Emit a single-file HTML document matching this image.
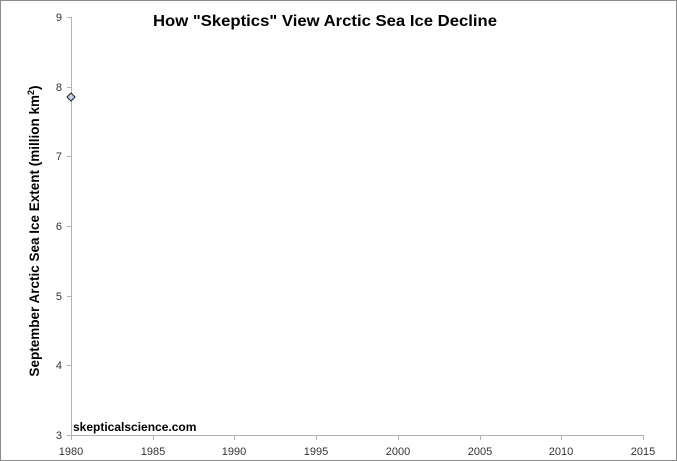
<!DOCTYPE html>
<html><head><style>body{margin:0;background:#fff}svg{display:block}</style></head><body>
<svg width="677" height="461" xmlns="http://www.w3.org/2000/svg" font-family="Liberation Sans, DejaVu Sans, sans-serif">
<rect x="0.5" y="0.5" width="676" height="460" fill="#fff" stroke="#8c8c8c"/>
<text x="325" y="26" text-anchor="middle" font-size="16" font-weight="bold" fill="#000" textLength="344" lengthAdjust="spacingAndGlyphs">How "Skeptics" View Arctic Sea Ice Decline</text>
<g stroke="#b3b3b3" stroke-width="1">
<line x1="71.5" y1="17" x2="71.5" y2="435"/>
<line x1="71" y1="435.5" x2="643" y2="435.5"/>
<line x1="67" y1="17.5" x2="71" y2="17.5"/>
<line x1="67" y1="87.5" x2="71" y2="87.5"/>
<line x1="67" y1="156.5" x2="71" y2="156.5"/>
<line x1="67" y1="226.5" x2="71" y2="226.5"/>
<line x1="67" y1="296.5" x2="71" y2="296.5"/>
<line x1="67" y1="365.5" x2="71" y2="365.5"/>
<line x1="67" y1="435.5" x2="71" y2="435.5"/>
<line x1="71.5" y1="435" x2="71.5" y2="440"/>
<line x1="153.5" y1="435" x2="153.5" y2="440"/>
<line x1="234.5" y1="435" x2="234.5" y2="440"/>
<line x1="316.5" y1="435" x2="316.5" y2="440"/>
<line x1="398.5" y1="435" x2="398.5" y2="440"/>
<line x1="480.5" y1="435" x2="480.5" y2="440"/>
<line x1="561.5" y1="435" x2="561.5" y2="440"/>
<line x1="643.5" y1="435" x2="643.5" y2="440"/>
</g>
<g font-size="11" fill="#333" text-anchor="end">
<text x="62" y="21">9</text><text x="62" y="91">8</text><text x="62" y="160">7</text>
<text x="62" y="230">6</text><text x="62" y="300">5</text><text x="62" y="369">4</text><text x="62" y="439">3</text>
</g>
<g font-size="11" fill="#333" text-anchor="middle">
<text x="71" y="455">1980</text><text x="153" y="455">1985</text><text x="234" y="455">1990</text>
<text x="316" y="455">1995</text><text x="398" y="455">2000</text><text x="480" y="455">2005</text>
<text x="561" y="455">2010</text><text x="643" y="455">2015</text>
</g>
<text transform="translate(39,231) rotate(-90)" text-anchor="middle" font-size="13.5" font-weight="bold" fill="#000">September Arctic Sea Ice Extent (million km<tspan font-size="9" dy="-5">2</tspan><tspan dy="5">)</tspan></text>
<text x="73" y="431" font-size="12" font-weight="bold" fill="#000">skepticalscience.com</text>
<polygon points="71,93 75,97 71,101 67,97" fill="#c6d4ec" stroke="#222" stroke-width="1"/>
</svg>
</body></html>
